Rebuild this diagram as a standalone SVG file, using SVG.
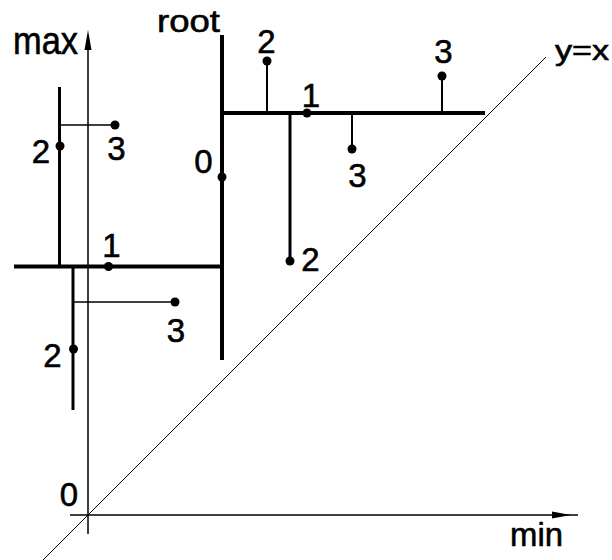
<svg xmlns="http://www.w3.org/2000/svg" width="612" height="560" viewBox="0 0 612 560">
<style>
text{font-family:"Liberation Sans",Arial,sans-serif;fill:#000;stroke:#000;stroke-width:0.6;}
.d{font-size:33px;text-anchor:middle;}
.w{font-size:32px;}
.thick{stroke:#000;stroke-width:4;fill:none;}
.med{stroke:#000;stroke-width:3;fill:none;}
.stem{stroke:#000;stroke-width:2;fill:none;}
.thin{stroke:#000;stroke-width:1.5;fill:none;}
.axis{stroke:#000;stroke-width:1.5;fill:none;}
.dot{fill:#000;}
</style>
<rect width="612" height="560" fill="#fff"/>
<g id="axes">
<line class="axis" x1="88" y1="36" x2="88" y2="534"/>
<polygon points="88,30 84.5,50 91.5,50" fill="#000"/>
<line class="axis" x1="70" y1="515" x2="578" y2="515"/>
<polygon points="571,515 552,511.5 552,518.5" fill="#000"/>
<line stroke="#000" stroke-width="1" x1="43" y1="560" x2="546" y2="57"/>
<text id="label-max" x="13" y="54" textLength="65" lengthAdjust="spacingAndGlyphs" style="font-size:38px">max</text>
<text id="label-min" x="510" y="546" textLength="53" lengthAdjust="spacingAndGlyphs" style="font-size:34px">min</text>
<text id="label-yx" x="555" y="60" textLength="54" lengthAdjust="spacingAndGlyphs" style="font-size:28px">y=x</text>
<text id="label-origin" class="d" x="69" y="506">0</text>
</g>
<g id="connectors">
<line class="thick" x1="222" y1="35" x2="222" y2="360"/>
<line class="thick" x1="222" y1="113" x2="485" y2="113"/>
<line class="thick" x1="14" y1="266.5" x2="222" y2="266.5"/>
<line class="stem" x1="267" y1="113" x2="267" y2="61"/>
<line class="stem" x1="442" y1="113" x2="442" y2="76"/>
<line class="stem" x1="352" y1="113" x2="352" y2="149"/>
<line class="med" x1="290" y1="113" x2="290" y2="261"/>
<line class="med" x1="59.5" y1="87" x2="59.5" y2="266"/>
<line class="thin" x1="59.5" y1="125" x2="115" y2="125"/>
<line class="med" x1="73" y1="266" x2="73" y2="410"/>
<line class="thin" x1="73" y1="302" x2="175" y2="302"/>
</g>
<g id="root">
<text class="w" x="157" y="32" textLength="63" lengthAdjust="spacingAndGlyphs">root</text>
</g>
<g id="n0-root"><circle class="dot" cx="222" cy="177" r="4.5"/><text class="d" x="203.5" y="173">0</text></g>
<g id="n1-right"><circle class="dot" cx="307" cy="113" r="4.5"/><text class="d" x="311" y="107">1</text></g>
<g id="n2-top"><circle class="dot" cx="267" cy="61" r="4.5"/><text class="d" x="266.5" y="53">2</text></g>
<g id="n3-topright"><circle class="dot" cx="442" cy="76" r="4.5"/><text class="d" x="443.5" y="63">3</text></g>
<g id="n3-mid"><circle class="dot" cx="352" cy="149" r="4.5"/><text class="d" x="357.5" y="187">3</text></g>
<g id="n2-right"><circle class="dot" cx="290" cy="261" r="4.5"/><text class="d" x="310.5" y="271">2</text></g>
<g id="n1-left"><circle class="dot" cx="108.5" cy="266.5" r="4.5"/><text class="d" x="111.5" y="257">1</text></g>
<g id="n2-lefttop"><circle class="dot" cx="60" cy="146" r="4.5"/><text class="d" x="41" y="163">2</text></g>
<g id="n3-lefttop"><circle class="dot" cx="115" cy="125" r="4.5"/><text class="d" x="116.5" y="160">3</text></g>
<g id="n3-leftlow"><circle class="dot" cx="175" cy="302" r="4.5"/><text class="d" x="176" y="342">3</text></g>
<g id="n2-leftlow"><circle class="dot" cx="73.5" cy="349" r="4.5"/><text class="d" x="52.5" y="367">2</text></g>
</svg>
